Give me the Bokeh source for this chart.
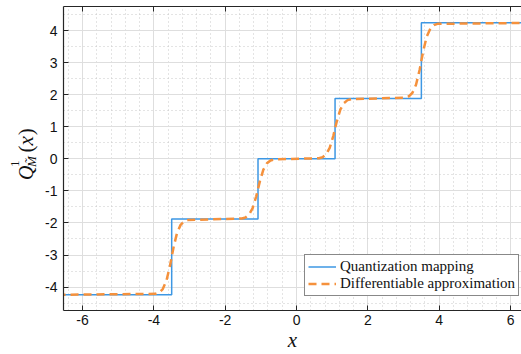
import math
from bokeh.plotting import figure
from bokeh.layouts import row
from bokeh.models import (Range1d, SingleIntervalTicker, LinearAxis, Legend, LegendItem,
                          PrintfTickFormatter, ColumnDataSource)
from bokeh.core.properties import value
from bokeh.embed import file_html
from bokeh.resources import INLINE

# ---- data ----
STEP_X = [-6.7, -3.5, -1.08, 1.08, 3.5, 6.7]
STEP_Y = [-4.24, -1.88, 0.0, 1.88, 4.24, 4.24]

DIFF_X = [-6.7,
          -3.95, -3.85, -3.75, -3.65, -3.55, -3.45, -3.35, -3.25, -3.15, -3.05,
          -1.53, -1.43, -1.33, -1.23, -1.13, -1.03, -0.93, -0.83, -0.73, -0.63,
          0.63, 0.73, 0.83, 0.93, 1.03, 1.13, 1.23, 1.33, 1.43, 1.53,
          3.05, 3.15, 3.25, 3.35, 3.45, 3.55, 3.65, 3.75, 3.85, 3.95,
          6.7]
DIFF_Y = [-4.24,
          -4.21, -4.17, -4.06, -3.81, -3.35, -2.77, -2.31, -2.06, -1.95, -1.91,
          -1.86, -1.83, -1.74, -1.54, -1.17, -0.71, -0.34, -0.14, -0.05, -0.02,
          0.02, 0.05, 0.14, 0.34, 0.71, 1.17, 1.54, 1.74, 1.83, 1.86,
          1.91, 1.95, 2.06, 2.31, 2.77, 3.35, 3.81, 4.06, 4.17, 4.21,
          4.24]

LEGEND_LABELS = ["Quantization mapping", "Differentiable approximation"]
X_LABEL = "x"
Y_LABEL_PARTS = ["Q", "1", "M\u0303", "(", "x", ")"]

BLUE = "#3d97e3"
ORANGE = "#f5913c"
AXC = "#262626"
SERIF = "Liberation Serif"

LW = 38  # width of the y-label strip

# ---- strip holding the y-axis label ----
lf = figure(width=LW, height=354, output_backend="svg", toolbar_location=None,
            x_range=Range1d(0, LW), y_range=Range1d(354, 0),
            x_axis_location=None, y_axis_location=None,
            min_border=0, min_border_left=0, min_border_right=0,
            min_border_top=0, min_border_bottom=0)
lf.outline_line_color = None
lf.xgrid.visible = False
lf.ygrid.visible = False

A = math.pi / 2
# positions (strip pixels) and styles of the pieces of Q^1_{M~}(x)
ys = ColumnDataSource(dict(
    x=[25, 14, 31, 25, 25, 25],
    y=[202, 187, 187, 170, 162, 150],
    t=Y_LABEL_PARTS,
    s=["20px", "13px", "13px", "21px", "21px", "21px"],
    f=["italic", "normal", "italic", "normal", "italic", "normal"],
))
lf.text(x="x", y="y", text="t", source=ys, angle=A, text_font=value(SERIF),
        text_font_size="s", text_font_style="f", text_color="#111111",
        text_align="left", text_baseline="alphabetic")

# ---- main plot ----
p = figure(width=521 - LW, height=354, output_backend="svg", toolbar_location=None,
           x_range=Range1d(-6.533, 6.307), y_range=Range1d(-4.73, 4.75),
           x_axis_location=None, y_axis_location=None,
           min_border_left=63 - LW, min_border_right=0, min_border_top=6, min_border_bottom=42)
p.outline_line_color = None
p.background_fill_color = "white"

xt = SingleIntervalTicker(interval=2, num_minor_ticks=5)
yt = SingleIntervalTicker(interval=1, num_minor_ticks=2)

def style_axis(ax, labels=True):
    ax.axis_line_color = AXC
    ax.axis_line_width = 1.2
    ax.major_tick_in = 5
    ax.major_tick_out = 0
    ax.minor_tick_in = 0
    ax.minor_tick_out = 0
    ax.major_tick_line_color = AXC
    ax.formatter = PrintfTickFormatter(format="%d")
    ax.major_label_text_font = "Liberation Sans"
    ax.major_label_text_font_size = "14px"
    ax.major_label_text_color = "#111111"
    if not labels:
        ax.major_label_text_font_size = "0px"
        ax.major_label_text_alpha = 0

bx = LinearAxis(ticker=xt)
style_axis(bx)
bx.major_label_standoff = 4
bx.axis_label = X_LABEL
bx.axis_label_text_font = SERIF
bx.axis_label_text_font_style = "italic"
bx.axis_label_text_font_size = "21px"
bx.axis_label_text_color = "#111111"
bx.axis_label_standoff = 0
p.add_layout(bx, "below")
lx = LinearAxis(ticker=yt)
style_axis(lx)
lx.major_label_standoff = 6
p.add_layout(lx, "left")
tx = LinearAxis(ticker=xt)
style_axis(tx, labels=False)
tx.major_label_standoff = 0
p.add_layout(tx, "above")

p.xgrid.ticker = xt
p.ygrid.ticker = yt
for g in (p.xgrid[0], p.ygrid[0]):
    g.grid_line_color = "#dedede"
    g.grid_line_width = 1
    g.minor_grid_line_color = "#c8c8c8"
    g.minor_grid_line_dash = "1 3"
    g.minor_grid_line_width = 1

r1 = p.step(STEP_X, STEP_Y, mode="after", line_color=BLUE, line_width=1.5)
r2 = p.line(DIFF_X, DIFF_Y, line_color=ORANGE, line_width=2.5, line_dash="8 5")

legend = Legend(items=[LegendItem(label=LEGEND_LABELS[0], renderers=[r1]),
                       LegendItem(label=LEGEND_LABELS[1], renderers=[r2])],
                location=(241, 14), glyph_width=28, glyph_height=17, label_height=17,
                label_standoff=4, padding=3, spacing=0, margin=0,
                label_text_font=SERIF, label_text_font_size="15px",
                label_text_color="#111111",
                border_line_color="#111111", border_line_width=1,
                background_fill_color="white", background_fill_alpha=1)
p.add_layout(legend, "center")

layout = row(lf, p, spacing=0)
layout.styles = {"margin-left": "0px", "margin-top": "0px"}

open("out.html", "w").write(file_html(layout, INLINE))
